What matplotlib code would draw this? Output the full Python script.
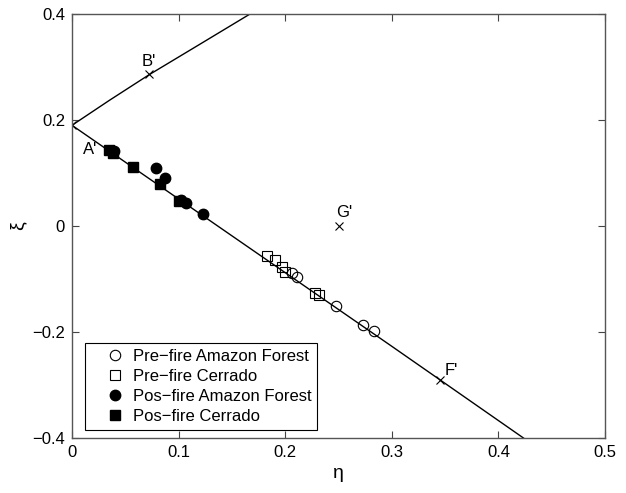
import numpy as np
import matplotlib.pyplot as plt

plt.rcParams['font.family'] = ['Liberation Sans', 'DejaVu Sans']

# boundary curves of the (eta, xi) domain
upper_eta = [0.0, 0.035, 0.072, 0.12, 0.167]
upper_xi = [0.19, 0.237, 0.285, 0.343, 0.40]
lower_eta = [0.0, 0.1, 0.2, 0.3, 0.345, 0.4235]
lower_xi = [0.19, 0.051, -0.088, -0.227, -0.290, -0.40]

# reference points A', B', F', G'
ref_names = ["A'", "B'", "F'", "G'"]
ref_eta = [0.0, 0.072, 0.345, 0.25]
ref_xi = [0.19, 0.287, -0.290, 0.0]
label_eta = [0.010, 0.065, 0.350, 0.248]
label_xi = [0.145, 0.310, -0.272, 0.025]

# samples
pre_amazon_eta = [0.206, 0.211, 0.248, 0.273, 0.283]
pre_amazon_xi = [-0.088, -0.096, -0.150, -0.187, -0.199]
pre_cerrado_eta = [0.183, 0.190, 0.197, 0.200, 0.228, 0.232]
pre_cerrado_xi = [-0.056, -0.064, -0.078, -0.086, -0.127, -0.131]
pos_amazon_eta = [0.039, 0.079, 0.087, 0.102, 0.107, 0.123]
pos_amazon_xi = [0.141, 0.109, 0.091, 0.049, 0.043, 0.022]
pos_cerrado_eta = [0.035, 0.038, 0.057, 0.083, 0.100]
pos_cerrado_xi = [0.143, 0.138, 0.111, 0.080, 0.047]

fig = plt.figure(figsize=(6.26, 4.93), dpi=100)
ax = fig.add_axes([72 / 626, 1 - 438 / 493, 533 / 626, 424 / 493])

ax.plot(upper_eta, upper_xi, color='black', lw=1.0)
ax.plot(lower_eta, lower_xi, color='black', lw=1.0)
ax.plot(ref_eta, ref_xi, 'x', color='black', ms=5.5, mew=0.8)
for name, x, y in zip(ref_names, label_eta, label_xi):
    ax.text(x, y, name, fontsize=12, ha='left', va='center')

ax.plot(pre_amazon_eta, pre_amazon_xi, 'o', mfc='none', mec='black', ms=7.5, mew=0.8,
        label='Pre\u2212fire Amazon Forest')
ax.plot(pre_cerrado_eta, pre_cerrado_xi, 's', mfc='none', mec='black', ms=6.5, mew=0.8,
        label='Pre\u2212fire Cerrado')
ax.plot(pos_amazon_eta, pos_amazon_xi, 'o', color='black', ms=7.5,
        label='Pos\u2212fire Amazon Forest')
ax.plot(pos_cerrado_eta, pos_cerrado_xi, 's', color='black', ms=6.5,
        label='Pos\u2212fire Cerrado')

ax.set_xlim(0, 0.5)
ax.set_ylim(-0.4, 0.4)
ax.set_xticks([0, 0.1, 0.2, 0.3, 0.4, 0.5])
ax.set_xticklabels(['0', '0.1', '0.2', '0.3', '0.4', '0.5'])
ax.set_yticks([-0.4, -0.2, 0, 0.2, 0.4])
ax.set_yticklabels(['\u22120.4', '\u22120.2', '0', '0.2', '0.4'])
ax.tick_params(direction='in', top=True, right=True, length=5, width=0.8,
               labelsize=12, color='#444444', pad=5)
for s in ax.spines.values():
    s.set_color('#555555')
    s.set_linewidth(1.0)
ax.set_xlabel('\u03b7', fontsize=14)
ax.set_ylabel('\u03be', fontsize=14)

leg = ax.legend(loc='lower left', bbox_to_anchor=(0.024, 0.019), borderaxespad=0,
                fontsize=12, fancybox=False, edgecolor='black', framealpha=1,
                handlelength=2.9, handletextpad=-0.37, borderpad=0.35,
                labelspacing=0.3, numpoints=1)
leg.get_frame().set_linewidth(0.8)

fig.savefig('out.png', dpi=100)
